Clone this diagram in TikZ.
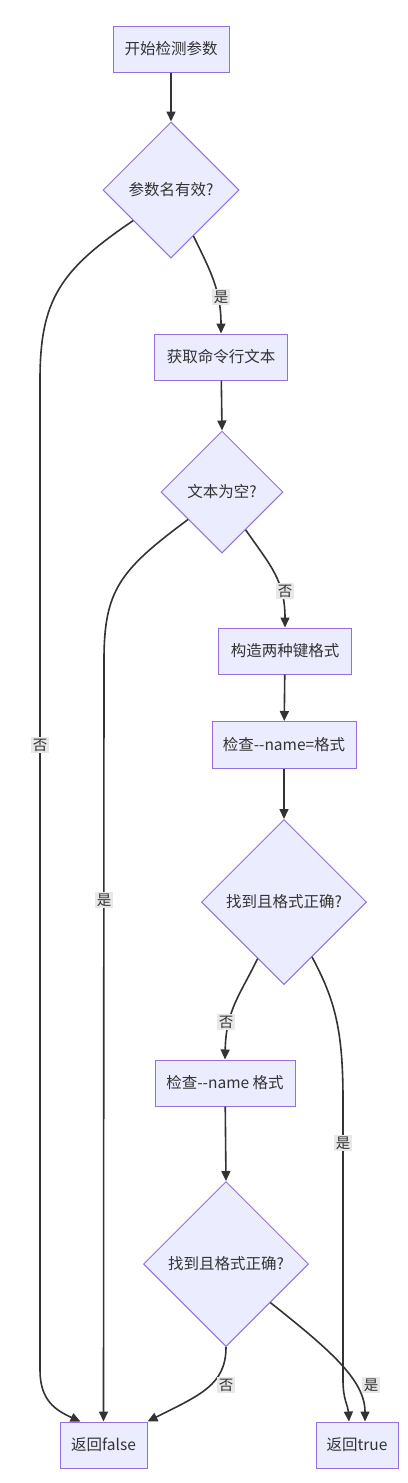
\documentclass[tikz,border=0pt]{standalone}
\usepackage{fontspec}
\setmainfont{Noto Sans CJK SC}
\usetikzlibrary{shapes.geometric,arrows.meta,calc}
\definecolor{nodefill}{HTML}{ECECFF}
\definecolor{nodeline}{HTML}{9370DB}
\definecolor{edgecol}{HTML}{333333}
\definecolor{lblbg}{HTML}{E8E8E8}
\begin{document}
\begin{tikzpicture}[x=1pt,y=-1pt,
  every node/.style={font=\fontsize{15.5}{18}\selectfont, text=edgecol},
  box/.style={draw=nodeline, fill=nodefill, line width=1pt, minimum height=46pt, inner sep=0pt},
  dia/.style={draw=nodeline, fill=nodefill, line width=1pt, diamond, aspect=1, inner sep=0pt},
  lbl/.style={fill=lblbg, inner sep=1.5pt, font=\fontsize{14.5}{16}\selectfont},
  edge/.style={draw=edgecol, line width=1.6pt, -{Triangle[length=10pt,width=9pt]}}]
\useasboundingbox (0,0) rectangle (407,1483);
\node[box, minimum width=116pt] (s) at (171,49) {开始检测参数};
\node[dia, minimum width=136pt, minimum height=136pt] (d1) at (171,190) {参数名有效?};
\node[box, minimum width=133pt] (b2) at (221,357) {获取命令行文本};
\node[dia, minimum width=122pt, minimum height=122pt] (d2) at (222,492) {文本为空?};
\node[box, minimum width=133pt] (b3) at (285,651) {构造两种键格式};
\node[box, minimum width=144pt, minimum height=47pt] (b4) at (284,745) {检查-{}-name=格式};
\node[dia, minimum width=165pt, minimum height=165pt] (d3) at (284,902) {找到且格式正确?};
\node[box, minimum width=140pt] (b5) at (225,1083) {检查-{}-name 格式};
\node[dia, minimum width=165pt, minimum height=165pt] (d4) at (226,1264) {找到且格式正确?};
\node[box, minimum width=87pt] (f) at (103.5,1445) {返回false};
\node[box, minimum width=82pt] (t) at (357,1445) {返回true};

\coordinate (fin) at ($(f.north)+(-23,0)$);
\coordinate (tin1) at ($(t.north)+(-8,0)$);
\coordinate (tin2) at ($(t.north)+(8,0)$);

\draw[edge] (s) -- (d1.north);
\draw[edge] (d1.-64) .. controls (210,270) and (221,290) .. (b2.north);
\draw[edge] (d1.-141) .. controls (60,270) and (40,300) .. (40,380) -- (40,1370) .. controls (40,1400) and (55,1410) .. (fin);
\draw[edge] (b2) -- (d2.north);
\draw[edge] (d2.-58) .. controls (270,565) and (285,580) .. (b3.north);
\draw[edge] (d2.-141) .. controls (120,570) and (104,590) .. (104,660) -- (f.north);
\draw[edge] (b3) -- (b4);
\draw[edge] (b4) -- (d3.north);
\draw[edge] (d3.-115) .. controls (240,995) and (226,1010) .. (b5.north);
\draw[edge] (d3.-63) .. controls (335,1000) and (343,1030) .. (343,1100) -- (343,1380) .. controls (343,1400) and (348,1405) .. (tin1);
\draw[edge] (b5) -- (d4.north);
\draw[edge] (d4.south) .. controls (226,1385) and (200,1395) .. (f.north east);
\draw[edge] (d4.-41) .. controls (330,1350) and (365,1380) .. (tin2);

\node[lbl] (l1) at (221,297) {是};
\node[lbl] (l2) at (40,745) {否};
\node[lbl] (l3) at (285,591) {否};
\node[lbl] (l4) at (104,900) {是};
\node[lbl] (l5) at (226,1022) {否};
\node[lbl] (l6) at (343,1143) {是};
\node[lbl] (l7) at (226,1385) {否};
\node[lbl] (l8) at (371,1385) {是};
\end{tikzpicture}
\end{document}
